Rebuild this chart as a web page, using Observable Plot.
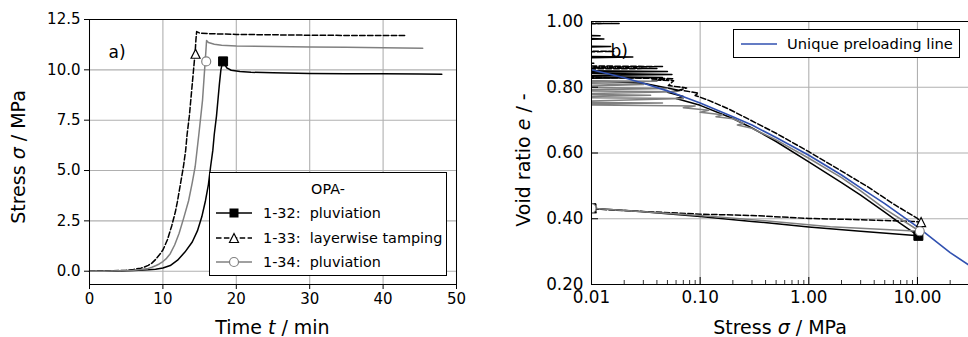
<!DOCTYPE html>
<html><head><meta charset="utf-8">
<script src="https://cdn.jsdelivr.net/npm/d3@7"></script>
<script src="https://cdn.jsdelivr.net/npm/@observablehq/plot@0.6"></script>
<style>
html,body{margin:0;padding:0;background:#fff;}
#fig{position:relative;width:968px;height:337px;overflow:hidden;font-family:"DejaVu Sans",sans-serif;color:#000;}
.panel{position:absolute;top:0;}
.lab{position:absolute;white-space:nowrap;font-size:19px;transform:translate(-50%,-50%);line-height:1;}
.rot{transform:translate(-50%,-50%) rotate(-90deg);}
.leg{position:absolute;background:#fff;border:1px solid #000;box-sizing:border-box;}
.lt{position:absolute;white-space:nowrap;line-height:1;transform:translateY(-50%);}
.lh{position:absolute;}
i{font-style:italic;}
</style></head>
<body>
<div id="fig">
  <div class="panel" id="pa" style="left:0;width:480px;height:337px"></div>
  <div class="panel" id="pb" style="left:480px;width:488px;height:337px"></div>
  <div class="lab" style="left:272.5px;top:327px">Time <i>t</i> / min</div>
  <div class="lab rot" style="left:18px;top:157px">Stress <i>σ</i> / MPa</div>
  <div class="lab" style="left:780px;top:327px">Stress <i>σ</i> / MPa</div>
  <div class="lab rot" style="left:523px;top:160px">Void ratio <i>e</i> / -</div>
  <div class="leg" style="left:209px;top:172px;width:238px;height:104px;font-size:14.4px">
    <div class="lt" style="left:0;width:100%;text-align:center;top:16px">OPA-</div>
    <svg class="lh" style="left:5px;top:31px" width="38" height="18"><line x1="1" y1="9" x2="37" y2="9" stroke="#000" stroke-width="1.5"/><rect x="14.5" y="4.5" width="9" height="9" fill="#000"/></svg>
    <div class="lt" style="left:53px;top:40px">1-32:&nbsp; pluviation</div>
    <svg class="lh" style="left:5px;top:55.5px" width="38" height="18"><line x1="1" y1="9" x2="37" y2="9" stroke="#000" stroke-width="1.5" stroke-dasharray="5.5,2.4"/><path d="M19,4.5L23.5,13.5L14.5,13.5Z" fill="#fff" stroke="#000" stroke-width="1.2"/></svg>
    <div class="lt" style="left:53px;top:64.5px">1-33:&nbsp; layerwise tamping</div>
    <svg class="lh" style="left:5px;top:79.5px" width="38" height="18"><line x1="1" y1="9" x2="37" y2="9" stroke="#808080" stroke-width="1.5"/><circle cx="19" cy="9" r="4.5" fill="#fff" stroke="#808080" stroke-width="1.2"/></svg>
    <div class="lt" style="left:53px;top:88.5px">1-34:&nbsp; pluviation</div>
  </div>
  <div class="leg" style="left:733px;top:29px;width:227px;height:29px;font-size:14.7px">
    <svg class="lh" style="left:5px;top:5px" width="40" height="18"><line x1="2" y1="9" x2="38" y2="9" stroke="#3050b0" stroke-width="1.6"/></svg>
    <div class="lt" style="left:53px;top:14px">Unique preloading line</div>
  </div>
</div>
<script>
// ---------- Panel a: stress vs time ----------
const seriesNames = ["1-32: pluviation", "1-33: layerwise tamping", "1-34: pluviation"];
const timeTicks = [0, 10, 20, 30, 40, 50];
const stressTicksA = [0, 2.5, 5, 7.5, 10, 12.5];
// [time (min), stress (MPa)]
const curveA32 = [[0,0],[2,0],[4,0.01],[6,0.03],[8,0.07],[9,0.1],[10,0.16],[11,0.28],[12,0.55],[13,0.95],[14,1.45],[14.7,2.0],[15.3,2.7],[15.8,3.5],[16.2,4.3],[16.5,5.2],[16.8,6.0],[17.0,6.8],[17.3,7.7],[17.5,8.5],[17.7,9.3],[17.9,10.0],[18.1,10.35],[18.2,10.45],[18.4,10.3],[18.7,10.1],[19.3,9.98],[20.5,9.92],[22,9.88],[25,9.85],[30,9.82],[35,9.81],[40,9.8],[45,9.79],[48,9.78]];
const curveA33 = [[0,0],[2,0.01],[4,0.03],[5,0.05],[6,0.09],[7,0.15],[7.5,0.21],[8,0.29],[8.5,0.4],[9,0.58],[9.5,0.8],[10,1.05],[10.6,1.55],[11.2,2.25],[11.7,2.95],[12.0,3.5],[12.4,4.35],[12.8,5.2],[13.1,6.0],[13.3,6.8],[13.6,7.7],[13.8,8.5],[14.0,9.3],[14.2,10.1],[14.4,10.9],[14.5,11.5],[14.6,11.9],[15,11.83],[16,11.8],[18,11.78],[20,11.76],[25,11.74],[30,11.72],[35,11.71],[40,11.7],[43,11.7]];
const curveA34 = [[0,0],[2,0],[4,0.02],[6,0.05],[7,0.08],[8,0.14],[8.5,0.2],[9,0.27],[9.5,0.36],[10,0.48],[10.5,0.64],[11,0.87],[11.6,1.3],[12.2,1.87],[12.8,2.6],[13.5,3.5],[14,4.4],[14.4,5.2],[14.9,6.8],[15.4,8.5],[15.7,10.1],[15.85,10.9],[15.95,11.46],[16.2,11.36],[17,11.27],[18,11.22],[20,11.19],[25,11.16],[30,11.14],[35,11.12],[40,11.1],[45.4,11.07]];
const markA = [[18.2,10.42],[14.45,10.8],[15.9,10.42]];

// ---------- Panel b: void ratio vs stress ----------
const stressTicksB = [0.01, 0.1, 1, 10];
const stressMinorB = [0.02,0.03,0.04,0.05,0.06,0.07,0.08,0.09,0.2,0.3,0.4,0.5,0.6,0.7,0.8,0.9,2,3,4,5,6,7,8,9,20];
const voidTicks = [0.2, 0.4, 0.6, 0.8, 1.0];
// [stress (MPa), void ratio]
const curveB32 = [[0.004,0.958],[0.012,0.957],[0.004,0.953],[0.013,0.947],[0.004,0.942],[0.004,0.926],[0.015,0.924],[0.004,0.92],[0.004,0.895],[0.024,0.892],[0.004,0.888],[0.004,0.874],[0.0105,0.873],[0.004,0.87],[0.004,0.851],[0.05,0.848],[0.004,0.844],[0.055,0.839],[0.004,0.834],[0.045,0.83],[0.004,0.826],[0.03,0.812],[0.065,0.79],[0.05,0.785],[0.07,0.772],[0.06,0.766],[0.1,0.745],[0.2,0.705],[0.3,0.676],[0.5,0.635],[1,0.573],[2,0.51],[3,0.472],[5,0.42],[7,0.385],[10.2,0.348],[3,0.362],[1,0.375],[0.3,0.392],[0.1,0.407],[0.03,0.421],[0.01,0.432],[0.005,0.434]];
const curveB33 = [[0.004,0.995],[0.018,0.994],[0.004,0.992],[0.004,0.911],[0.016,0.909],[0.004,0.906],[0.004,0.866],[0.045,0.863],[0.004,0.86],[0.04,0.857],[0.004,0.855],[0.004,0.832],[0.057,0.826],[0.036,0.822],[0.057,0.82],[0.051,0.805],[0.075,0.798],[0.065,0.792],[0.096,0.782],[0.09,0.775],[0.12,0.76],[0.18,0.735],[0.25,0.711],[0.5,0.66],[1,0.604],[2,0.545],[3.5,0.497],[6,0.445],[10,0.401],[10.8,0.39],[9,0.392],[3,0.397],[1,0.401],[0.3,0.41],[0.1,0.414],[0.03,0.422],[0.01,0.43],[0.005,0.432]];
const curveB34 = [[0.004,0.821],[0.04,0.818],[0.004,0.813],[0.03,0.808],[0.004,0.801],[0.05,0.796],[0.004,0.79],[0.06,0.786],[0.004,0.779],[0.035,0.776],[0.004,0.769],[0.07,0.766],[0.004,0.755],[0.045,0.752],[0.004,0.747],[0.09,0.743],[0.07,0.738],[0.12,0.73],[0.1,0.724],[0.16,0.716],[0.14,0.71],[0.2,0.704],[0.25,0.69],[0.22,0.685],[0.3,0.675],[0.5,0.64],[1,0.584],[2,0.525],[3,0.485],[5,0.43],[10.5,0.362],[1.58,0.376],[0.3,0.397],[0.1,0.41],[0.03,0.421],[0.01,0.432],[0.005,0.434]];
const markB = [[10.2,0.348],[10.8,0.39],[10.5,0.362]];
const markBEnd = [[0.01,0.432],[0.01,0.432],[0.01,0.432]];
const preloadStress = [0.01,0.02,0.03,0.05,0.1,0.2,0.3,0.5,1,2,3,5,10,20,29.5];
const preloadVoid = [0.853,0.829,0.812,0.789,0.752,0.710,0.685,0.647,0.593,0.533,0.494,0.446,0.375,0.297,0.26];

// ---------- styles ----------
const BLACK = "#000", GRAY = "#808080", BLUE = "#3050b0", GRID = "#b0b0b0";
const DASH = "5.5,2.4";
const symSquare = {draw(ctx, size){const r = Math.sqrt(size/Math.PI); ctx.moveTo(-r,-r); ctx.lineTo(r,-r); ctx.lineTo(r,r); ctx.lineTo(-r,r); ctx.closePath();}};
const symTri = {draw(ctx, size){const r = Math.sqrt(size/Math.PI); ctx.moveTo(0,-r); ctx.lineTo(r,r); ctx.lineTo(-r,r); ctx.closePath();}};
const symCirc = {draw(ctx, size){const r = Math.sqrt(size/Math.PI); ctx.moveTo(r,0); ctx.arc(0,0,r,0,2*Math.PI);}};

const toRows = (arr, a, b) => arr.map(d => ({[a]: d[0], [b]: d[1]}));
const rowsA = [curveA32, curveA33, curveA34].map(c => toRows(c, "t", "s"));
const rowsB = [curveB32, curveB33, curveB34].map(c => toRows(c, "s", "e"));
const preRows = preloadStress.map((s, i) => ({s, e: preloadVoid[i]}));
const styleBase = {fontFamily: "'DejaVu Sans', sans-serif", color: "#000", background: "transparent", overflow: "visible"};

const chartA = Plot.plot({
  width: 480, height: 337,
  marginLeft: 89, marginRight: 24, marginTop: 19, marginBottom: 53,
  style: {...styleBase, fontSize: "15px"},
  x: {domain: [0, 50]},
  y: {domain: [-0.66, 12.5]},
  marks: [
    Plot.gridX(timeTicks, {stroke: GRID, strokeOpacity: 1, strokeWidth: 1.1}),
    Plot.gridY(stressTicksA, {stroke: GRID, strokeOpacity: 1, strokeWidth: 1.1}),
    Plot.text(["a)"], {frameAnchor: "top-left", dx: 19, dy: 33, fontSize: 17, textAnchor: "start", lineAnchor: "middle"}),
    Plot.line(rowsA[0], {x: "t", y: "s", stroke: BLACK, strokeWidth: 1.5}),
    Plot.line(rowsA[1], {x: "t", y: "s", stroke: BLACK, strokeWidth: 1.5, strokeDasharray: DASH}),
    Plot.line(rowsA[2], {x: "t", y: "s", stroke: GRAY, strokeWidth: 1.5}),
    Plot.dot([markA[0]], {x: d => d[0], y: d => d[1], symbol: symSquare, r: 4.5, fill: BLACK, stroke: BLACK, strokeWidth: 1}),
    Plot.dot([markA[1]], {x: d => d[0], y: d => d[1], symbol: symTri, r: 4.5, fill: "#fff", stroke: BLACK, strokeWidth: 1.2}),
    Plot.dot([markA[2]], {x: d => d[0], y: d => d[1], symbol: symCirc, r: 4.5, fill: "#fff", stroke: GRAY, strokeWidth: 1.2}),
    Plot.frame({stroke: BLACK, strokeWidth: 1}),
    Plot.axisX(timeTicks, {tickSize: 5, tickPadding: 4, tickFormat: d => String(d), label: null}),
    Plot.axisY(stressTicksA, {tickSize: 5, tickPadding: 4, tickFormat: d => d.toFixed(1), label: null})
  ]
});
document.getElementById("pa").append(chartA);

const plotHB = 337 - 21 - 53, plotWB = 488 - 111;
const chartB = Plot.plot({
  width: 488, height: 337,
  marginLeft: 111, marginRight: 0, marginTop: 21, marginBottom: 53,
  style: {...styleBase, fontSize: "16.8px"},
  x: {type: "log", domain: [0.01, 29.5]},
  y: {domain: [0.2, 1.0]},
  marks: [
    Plot.gridX(stressTicksB, {stroke: GRID, strokeOpacity: 1, strokeWidth: 1.1}),
    Plot.gridY(voidTicks, {stroke: GRID, strokeOpacity: 1, strokeWidth: 1.1}),
    Plot.text(["b)"], {frameAnchor: "top-left", dx: 19, dy: 30, fontSize: 17, textAnchor: "start", lineAnchor: "middle"}),
    Plot.line(rowsB[0], {x: "s", y: "e", stroke: BLACK, strokeWidth: 1.5, clip: true}),
    Plot.line(rowsB[1], {x: "s", y: "e", stroke: BLACK, strokeWidth: 1.5, strokeDasharray: DASH, clip: true}),
    Plot.line(rowsB[2], {x: "s", y: "e", stroke: GRAY, strokeWidth: 1.5, clip: true}),
    Plot.line(preRows, {x: "s", y: "e", stroke: BLUE, strokeWidth: 1.6, clip: true}),
    Plot.dot([markB[0], markBEnd[0]], {x: d => d[0], y: d => d[1], symbol: symSquare, r: 4.5, fill: BLACK, stroke: BLACK, strokeWidth: 1, clip: true}),
    Plot.dot([markB[1], markBEnd[1]], {x: d => d[0], y: d => d[1], symbol: symTri, r: 4.5, fill: "#fff", stroke: BLACK, strokeWidth: 1.2, clip: true}),
    Plot.dot([markB[2], markBEnd[2]], {x: d => d[0], y: d => d[1], symbol: symCirc, r: 4.5, fill: "#fff", stroke: GRAY, strokeWidth: 1.2, clip: true}),
    Plot.ruleY([voidTicks[0], voidTicks[voidTicks.length - 1]], {stroke: BLACK, strokeWidth: 1}),
    Plot.ruleX([stressTicksB[0]], {stroke: BLACK, strokeWidth: 1}),
    Plot.tickX(stressTicksB, {x: d => d, insetTop: plotHB - 7, stroke: BLACK, strokeWidth: 1}),
    Plot.tickX(stressMinorB, {x: d => d, insetTop: plotHB - 4, stroke: BLACK, strokeWidth: 0.8}),
    Plot.tickY(voidTicks, {y: d => d, insetRight: plotWB - 7, stroke: BLACK, strokeWidth: 1}),
    Plot.axisX(stressTicksB, {tickSize: 0, tickPadding: 7, tickFormat: d => d.toFixed(2), label: null}),
    Plot.axisY(voidTicks, {tickSize: 0, tickPadding: 8, tickFormat: d => d.toFixed(2), label: null})
  ]
});
document.getElementById("pb").append(chartB);
</script>
</body></html>
